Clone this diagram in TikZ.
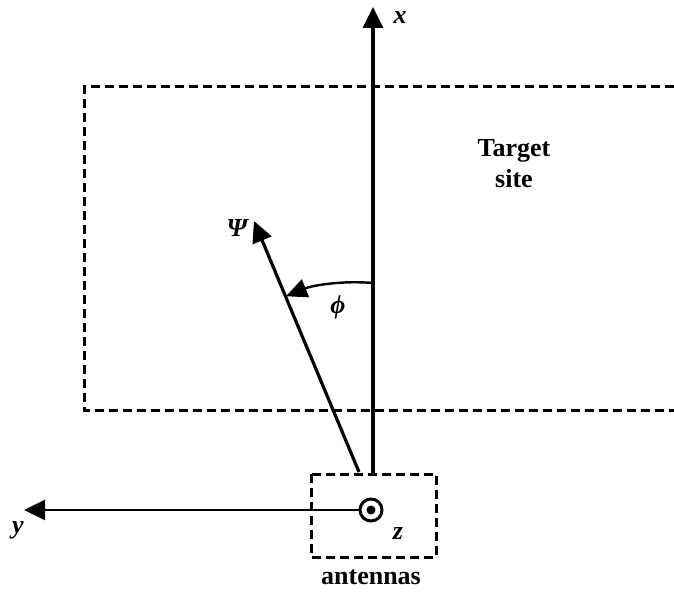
\documentclass[tikz,border=0pt]{standalone}
\usepackage{fontspec}
\setmainfont{Liberation Serif}
\usetikzlibrary{arrows.meta}
\begin{document}
\begin{tikzpicture}[x=1pt,y=-1pt,
  axis/.style={line width=3.2pt,-{Triangle[length=21pt,width=20pt]}},
  thinaxis/.style={line width=2.2pt,-{Triangle[length=21pt,width=20pt]}},
  siteline/.style={line width=3pt,dash pattern=on 9pt off 5pt},
  lbl/.style={font=\fontsize{26}{28}\selectfont\bfseries\itshape,inner sep=0pt},
  txt/.style={font=\fontsize{26}{31}\selectfont\bfseries,inner sep=0pt,align=center}]
\useasboundingbox (0,0) rectangle (674,593);
% target site region (open to the right)
\draw[siteline] (674,87) -- (84,87) -- (84,410) -- (674,410);
\node[txt] (site) at (514,164) {Target\\site};
% antenna box
\draw[siteline] (311,474) rectangle (436,557);
\node[txt] (ant) at (371,577) {antennas};
% axes
\coordinate (o) at (373,474);
\coordinate (xt) at (373,7);
\draw[axis] (o) -- (xt);
\node[lbl] (xl) at (400,18) {x};
\coordinate (po) at (359,472);
\coordinate (pt) at (254,221);
\draw[axis] (po) -- (pt);
\node[lbl] (psil) at (237,228) {Ψ};
% z axis out of the page
\node[circle,draw,line width=3pt,minimum size=22pt,inner sep=0pt] (zc) at (371,510) {};
\fill (zc.center) circle (4.5pt);
\node[lbl] (zl) at (398,534) {z};
\coordinate (yt) at (24,510);
\draw[thinaxis] (zc.west) -- (yt);
\node[lbl] (yl) at (18,530) {y};
% angle phi
\draw[line width=2.4pt,-{Triangle[length=21pt,width=19pt]}] (373,283) arc[start angle=-85.1,end angle=-112.2,radius=187.7];
\node[lbl] (phil) at (338,307) {ϕ};
\end{tikzpicture}
\end{document}
